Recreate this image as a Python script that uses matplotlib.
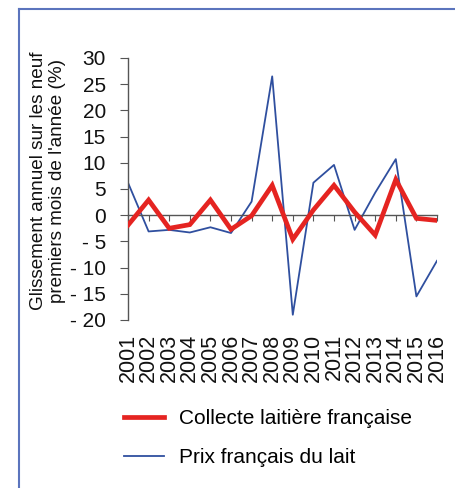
import matplotlib
matplotlib.use('Agg')
import matplotlib.pyplot as plt
from matplotlib.lines import Line2D

plt.rcParams['font.family'] = ['Liberation Sans', 'DejaVu Sans']

# Données
annees = ['2001', '2002', '2003', '2004', '2005', '2006', '2007', '2008',
          '2009', '2010', '2011', '2012', '2013', '2014', '2015', '2016']
collecte = [-1.9, 2.9, -2.5, -1.8, 2.9, -2.7, -0.1, 5.7,
            -4.6, 1.0, 5.7, 0.6, -3.8, 6.8, -0.6, -1.0]
prix = [6.2, -3.1, -2.8, -3.3, -2.3, -3.4, 2.6, 26.5,
        -19.0, 6.2, 9.6, -2.8, 4.3, 10.7, -15.5, -8.7]
y_ticks = [30, 25, 20, 15, 10, 5, 0, -5, -10, -15, -20]
y_labels = ['30', '25', '20', '15', '10', '5', '0', '- 5', '- 10', '- 15', '- 20']

ROUGE = '#e52421'
BLEU = '#2f4f9f'
GRIS = '#555555'

fig = plt.figure(figsize=(4.56, 4.88), dpi=100)
ax = fig.add_axes([128 / 456, 1 - 320 / 488, 309 / 456, 262 / 488])

x = list(range(len(annees)))
ax.plot(x, collecte, color=ROUGE, lw=3.4, solid_joinstyle='miter', zorder=3,
        label='Collecte laitière française')
ax.plot(x, prix, color=BLEU, lw=1.3, zorder=2, label='Prix français du lait')

ax.set_xlim(0, len(annees) - 1)
ax.set_ylim(-20, 30)
ax.set_yticks(y_ticks)
ax.set_yticklabels(y_labels, fontsize=15)

# axe des x sur la ligne zéro
ax.spines['top'].set_visible(False)
ax.spines['right'].set_visible(False)
ax.spines['bottom'].set_position(('data', 0))
for s in ['left', 'bottom']:
    ax.spines[s].set_color(GRIS)
    ax.spines[s].set_linewidth(1.0)
ax.set_xticks(x)
ax.tick_params(axis='x', direction='out', length=4, color=GRIS, labelbottom=False)
ax.tick_params(axis='y', direction='out', length=6, color=GRIS, pad=10, labelcolor='#111111')

sec = ax.secondary_xaxis(0.0)
sec.set_xticks(x)
sec.set_xticklabels(annees, rotation=90, fontsize=15.5, color='#111111')
sec.tick_params(length=0, pad=10)
sec.spines['bottom'].set_visible(False)

fig.text(48 / 456, 1 - 181 / 488,
         "Glissement annuel sur les neuf\npremiers mois de l'année (%)",
         rotation=90, ha='center', va='center', fontsize=13.6, linespacing=1.12,
         color='#111111')

ax.legend(loc='upper left', bbox_to_anchor=(124 / 456, 1 - 409 / 488),
          bbox_transform=fig.transFigure, frameon=False, fontsize=15,
          handlelength=1.9, handletextpad=0.75, labelspacing=0.95,
          borderpad=0, borderaxespad=0)

# cadre
fig.add_artist(Line2D([18.5 / 456, 18.5 / 456], [0, 1 - 8.5 / 488],
                      transform=fig.transFigure, color='#5b74bd', lw=1.5))
fig.add_artist(Line2D([18.5 / 456, 1], [1 - 8.5 / 488, 1 - 8.5 / 488],
                      transform=fig.transFigure, color='#5b74bd', lw=1.5))

fig.savefig('out.png', dpi=100)
